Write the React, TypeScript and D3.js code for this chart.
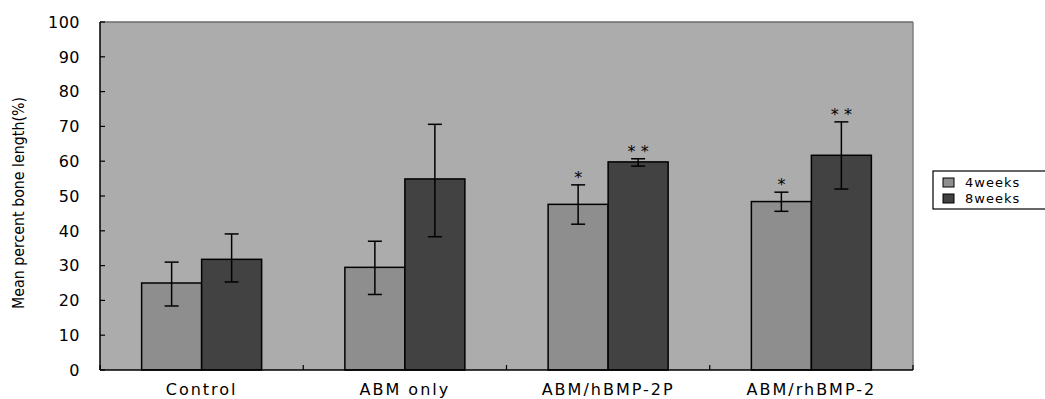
import React from "react";
import * as d3 from "d3";

const groups = ["Control", "ABM only", "ABM/hBMP-2P", "ABM/rhBMP-2"];
const series = ["4weeks", "8weeks"];
const week4 = [25, 29.5, 47.6, 48.4];
const week8 = [31.8, 54.9, 59.8, 61.7];
const week4Err = [[18.4, 31], [21.7, 37], [41.9, 53.2], [45.6, 51.1]];
const week8Err = [[25.3, 39.1], [38.3, 70.6], [58.6, 60.7], [52, 71.3]];
const week4Sig = ["", "", "*", "*"];
const week8Sig = ["", "", "* *", "* *"];
const yTicks = [0, 10, 20, 30, 40, 50, 60, 70, 80, 90, 100];

const colors = ["#8e8e8e", "#424242"];
const font = "'DejaVu Sans', Arial, sans-serif";

export default function App() {
  const width = 1045;
  const height = 399;
  const margin = { top: 22, left: 100, right: 132, bottom: 29 };
  const innerW = width - margin.left - margin.right;
  const innerH = height - margin.top - margin.bottom;

  const x = d3.scaleBand().domain(groups).range([0, innerW]);
  const barW = 60;
  const y = d3.scaleLinear().domain([0, 100]).range([innerH, 0]);

  const rows = groups.map((g, i) => ({
    group: g,
    bars: [
      { value: week4[i], err: week4Err[i], sig: week4Sig[i] },
      { value: week8[i], err: week8Err[i], sig: week8Sig[i] },
    ],
  }));

  return (
    <svg width={width} height={height} style={{ position: "absolute", left: 0, top: 0 }}>
      <rect width={width} height={height} fill="#ffffff" />
      <g transform={`translate(${margin.left},${margin.top})`}>
        <rect width={innerW} height={innerH} fill="#acacac" />
        <line x1={0} x2={innerW} y1={0} y2={0} stroke="#6a6a6a" strokeWidth={1.5} />
        <line x1={innerW} x2={innerW} y1={0} y2={innerH} stroke="#808080" strokeWidth={1.5} />
        {yTicks.map((t) => (
          <g key={t} transform={`translate(0,${y(t)})`}>
            <line x1={0} x2={5} stroke="#000" strokeWidth={1.2} />
            <text x={-20} dy="0.36em" textAnchor="end" fontFamily={font} fontSize={16} letterSpacing={0.5} fill="#000">
              {t}
            </text>
          </g>
        ))}
        {groups.map((g) => (
          <line key={g} x1={x(g)!} x2={x(g)!} y1={innerH} y2={innerH - 5} stroke="#000" strokeWidth={1.2} />
        ))}
        <line x1={innerW} x2={innerW} y1={innerH} y2={innerH - 5} stroke="#000" strokeWidth={1.2} />
        {rows.map((r) => {
          const cx = x(r.group)! + x.bandwidth() / 2;
          return (
            <g key={r.group}>
              {r.bars.map((b, j) => {
                const bx = cx - barW + j * barW;
                const mx = bx + barW / 2;
                return (
                  <g key={j}>
                    <rect
                      x={bx}
                      y={y(b.value)}
                      width={barW}
                      height={innerH - y(b.value)}
                      fill={colors[j]}
                      stroke="#000"
                      strokeWidth={1.5}
                    />
                    <line x1={mx} x2={mx} y1={y(b.err[0])} y2={y(b.err[1])} stroke="#000" strokeWidth={1.5} />
                    <line x1={mx - 7} x2={mx + 7} y1={y(b.err[0])} y2={y(b.err[0])} stroke="#000" strokeWidth={1.5} />
                    <line x1={mx - 7} x2={mx + 7} y1={y(b.err[1])} y2={y(b.err[1])} stroke="#000" strokeWidth={1.5} />
                    {b.sig && (
                      <text x={mx} y={y(b.err[1]) - 2} textAnchor="middle" fontFamily={font} fontSize={16} fill="#000">
                        {b.sig}
                      </text>
                    )}
                  </g>
                );
              })}
              <text
                x={cx}
                y={innerH + 25}
                textAnchor="middle"
                fontFamily={font}
                fontSize={16}
                letterSpacing={2}
                fill="#000"
              >
                {r.group}
              </text>
            </g>
          );
        })}
        <line x1={0} x2={innerW} y1={innerH} y2={innerH} stroke="#000" strokeWidth={1.5} />
        <line x1={0} x2={0} y1={0} y2={innerH} stroke="#000" strokeWidth={1.5} />
      </g>
      <text
        transform="translate(24,203) rotate(-90)"
        textAnchor="middle"
        fontFamily="'DejaVu Sans Condensed', 'Liberation Sans Narrow', sans-serif"
        fontSize={15}
        textLength={212}
        lengthAdjust="spacingAndGlyphs"
        fill="#000"
      >
        Mean percent bone length(%)
      </text>
      <g transform="translate(933,171)">
        <rect width={120} height={38} fill="#fff" stroke="#000" strokeWidth={1.2} />
        {series.map((s, i) => (
          <g key={s} transform={`translate(10,${7 + i * 16})`}>
            <rect width={11} height={9} fill={colors[i]} stroke="#000" strokeWidth={1} />
            <text x={22} y={9} fontFamily={font} fontSize={13} letterSpacing={1} fill="#000">
              {s}
            </text>
          </g>
        ))}
      </g>
    </svg>
  );
}
